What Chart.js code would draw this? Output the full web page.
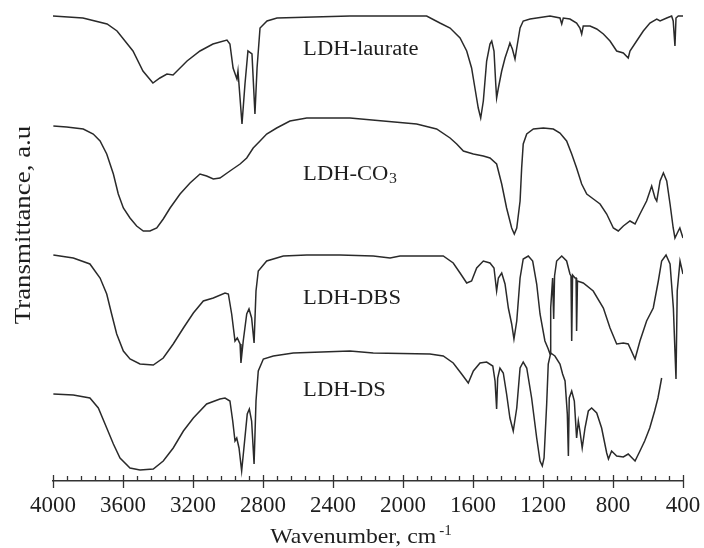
<!DOCTYPE html>
<html><head><meta charset="utf-8">
<script src="https://cdn.jsdelivr.net/npm/chart.js@4"></script>
<style>html,body{margin:0;padding:0;background:#fff}</style>
</head><body>
<canvas id="c" width="704" height="548"></canvas>
<script>
// ---- data (wavenumber in cm^-1, transmittance in arbitrary stacked units) ----
const xTickValues = [4000, 3600, 3200, 2800, 2400, 2000, 1600, 1200, 800, 400];
const seriesNames = ['LDH-laurate', 'LDH-CO3', 'LDH-DBS', 'LDH-DS'];

const laurateWn = [4000,3829,3691,3634,3543,3486,3429,3389,3349,3314,3234,3160,3086,3006,2989,2971,2949,2943,2920,2903,2886,2863,2846,2834,2817,2777,2720,2303,1865,1789,1731,1674,1636,1608,1589,1570,1556,1541,1522,1503,1493,1480,1470,1465,1455,1436,1417,1398,1389,1375,1360,1350,1331,1313,1274,1236,1160,1103,1093,1084,1046,1008,989,979,970,931,893,855,817,779,741,713,703,665,627,589,550,531,493,465,456,446,440,427,400];
const laurateT  = [465,463,457,450,430,410,398,403,407,406,420,430,437,441,437,413,402,410,357,397,430,427,367,413,453,460,463,465,465,458,453,443,430,413,393,373,363,380,420,437,440,430,397,383,393,410,423,433,438,432,422,433,453,460,462,463,465,463,457,463,462,458,453,447,455,455,452,447,440,430,428,423,430,440,450,458,462,460,463,465,460,435,463,465,465];

const co3Wn = [3998,3922,3827,3770,3731,3693,3655,3627,3598,3560,3522,3484,3446,3407,3370,3331,3274,3217,3160,3122,3084,3046,2989,2931,2893,2856,2817,2779,2722,2646,2550,2493,2303,2113,1922,1808,1731,1693,1655,1598,1541,1503,1465,1436,1408,1379,1364,1350,1331,1322,1313,1293,1255,1198,1141,1103,1065,1036,1008,979,950,912,874,836,798,770,741,703,674,646,608,579,560,550,531,512,493,474,456,446,427,418,400];
const co3T  = [355,354,352,347,340,327,307,287,273,263,255,250,250,253,262,273,287,298,307,305,302,303,310,317,323,333,340,347,353,360,363,363,363,360,357,352,343,337,330,327,325,323,317,297,273,253,247,253,280,313,337,347,352,353,352,348,340,327,313,297,287,282,277,267,253,250,255,260,257,267,280,295,283,280,300,308,300,277,253,243,250,253,243];

const dbsWn = [3998,3884,3789,3731,3693,3665,3636,3598,3560,3503,3427,3370,3313,3255,3198,3141,3084,3017,2998,2979,2960,2947,2931,2926,2913,2893,2880,2865,2851,2840,2827,2779,2684,2550,2360,2170,2074,2017,1770,1713,1674,1636,1608,1579,1541,1503,1480,1465,1455,1436,1417,1398,1379,1366,1350,1331,1313,1284,1259,1236,1217,1189,1170,1160,1156,1145,1139,1134,1122,1093,1065,1046,1040,1036,1031,1017,1011,1008,1003,970,913,855,817,779,741,713,674,646,608,570,541,522,497,474,455,446,440,433,417,400];
const dbsT  = [226,223,217,203,187,167,147,130,122,117,116,123,137,153,168,180,183,188,187,167,140,143,137,118,140,167,172,163,138,190,210,220,225,226,226,225,223,225,225,218,208,198,200,213,220,218,213,190,203,208,197,173,157,142,160,203,222,225,220,197,167,140,132,127,173,203,162,205,220,225,220,207,205,140,206,203,203,150,200,198,190,173,153,137,138,137,122,140,160,173,200,220,226,217,173,130,102,190,220,207];

const dsWn = [3998,3884,3789,3741,3693,3655,3617,3560,3503,3427,3370,3313,3255,3198,3122,3046,3017,2989,2973,2960,2950,2937,2922,2909,2890,2878,2865,2851,2840,2827,2798,2741,2627,2303,2170,1846,1770,1713,1665,1627,1598,1560,1522,1487,1474,1465,1459,1446,1427,1408,1389,1370,1350,1331,1313,1293,1265,1236,1217,1204,1194,1179,1170,1156,1132,1103,1088,1074,1061,1055,1050,1036,1021,1008,998,989,976,960,941,922,893,865,836,826,808,779,741,713,674,646,619,590,562,543,522];
const dsT  = [87,86,83,73,53,37,23,13,11,12,20,33,50,63,77,82,83,80,60,40,43,33,10,33,67,72,60,17,80,110,122,125,128,130,128,127,125,118,107,98,110,118,119,115,100,72,103,113,108,87,63,50,73,113,119,113,83,43,20,15,23,77,117,128,125,117,107,100,67,25,83,90,80,43,60,50,33,53,70,73,68,53,28,22,30,25,24,27,20,30,40,53,70,83,103];

const wnArrays = [laurateWn, co3Wn, dbsWn, dsWn];
const tArrays = [laurateT, co3T, dbsT, dsT];

// ---- drawing helpers ----
const SERIF = '"Liberation Serif", "Times New Roman", serif';
const TEXT_COLOR = '#1e1e1e';

function stretchedText(ctx, text, x, y, sx, align) {
  ctx.save();
  ctx.translate(x, y);
  ctx.scale(sx, 1);
  ctx.textAlign = align || 'left';
  ctx.fillText(text, 0, 0);
  ctx.restore();
}

const curveLabels = [
  { wn: 2571, t: 426, main: 'LDH-laurate', sub: '' },
  { wn: 2571, t: 301, main: 'LDH-CO', sub: '3' },
  { wn: 2571, t: 177, main: 'LDH-DBS', sub: '' },
  { wn: 2571, t: 85,  main: 'LDH-DS', sub: '' }
];

const decorPlugin = {
  id: 'decor',
  afterDraw(chart) {
    const { ctx, chartArea, scales } = chart;
    const xs = scales.x, ys = scales.y;
    ctx.save();
    // minor & major ticks crossing the axis
    ctx.strokeStyle = '#333';
    ctx.lineWidth = 1.3;
    const axisY = chartArea.bottom;
    for (let w = 400; w <= 4000; w += 80) {
      const px = Math.round(xs.getPixelForValue(w)) + 0.5;
      const major = w % 400 === 0;
      ctx.beginPath();
      ctx.moveTo(px, axisY - (major ? 6 : 5));
      ctx.lineTo(px, axisY + (major ? 7 : 0));
      ctx.stroke();
    }
    ctx.fillStyle = TEXT_COLOR;
    ctx.textBaseline = 'alphabetic';
    // curve labels
    const sx = 1.13;
    curveLabels.forEach(l => {
      const px = xs.getPixelForValue(l.wn);
      const py = ys.getPixelForValue(l.t);
      ctx.font = '20px ' + SERIF;
      stretchedText(ctx, l.main, px, py, sx, 'left');
      if (l.sub) {
        const w = ctx.measureText(l.main).width * sx;
        ctx.font = '14px ' + SERIF;
        stretchedText(ctx, l.sub, px + w + 0.5, py + 3, sx, 'left');
      }
    });
    // x-axis title with superscript
    const midX = (chartArea.left + chartArea.right) / 2 - 7;
    ctx.font = '22px ' + SERIF;
    const sxt = 1.08;
    const mainTxt = 'Wavenumber, cm';
    const wMain = ctx.measureText(mainTxt).width * sxt;
    ctx.font = '14px ' + SERIF;
    const supTxt = '-1';
    const wSup = ctx.measureText(supTxt).width * sxt;
    const startX = midX - (wMain + 3 + wSup) / 2;
    const baseY = chart.height - 5;
    ctx.font = '22px ' + SERIF;
    stretchedText(ctx, mainTxt, startX, baseY, sxt, 'left');
    ctx.font = '14px ' + SERIF;
    stretchedText(ctx, supTxt, startX + wMain + 3, baseY - 8, sxt, 'left');
    // y-axis title (rotated)
    ctx.save();
    ctx.translate(chartArea.left - 23.5, 225);
    ctx.rotate(-Math.PI / 2);
    ctx.scale(1.17, 1);
    ctx.font = '23px ' + SERIF;
    ctx.textAlign = 'center';
    ctx.fillText('Transmittance, a.u', 0, 0);
    ctx.restore();
    ctx.restore();
  }
};

const datasets = seriesNames.map((name, i) => ({
  label: name,
  data: wnArrays[i].map((w, k) => ({ x: w, y: tArrays[i][k] })),
  borderColor: '#2a2a2a',
  borderWidth: 1.5,
  pointRadius: 0,
  tension: 0,
  fill: false
}));

new Chart(document.getElementById('c'), {
  type: 'line',
  data: { datasets },
  options: {
    responsive: false,
    animation: false,
    devicePixelRatio: 1,
    layout: { padding: { left: 53, right: 21, top: 11, bottom: 0 } },
    plugins: { legend: { display: false }, tooltip: { enabled: false } },
    scales: {
      x: {
        type: 'linear',
        reverse: true,
        min: 400,
        max: 4000,
        afterBuildTicks(scale) {
          scale.ticks = xTickValues.map(v => ({ value: v }));
        },
        afterFit(scale) {
          scale.height = 67;
          scale.paddingLeft = 0;
          scale.paddingRight = 0;
        },
        grid: { display: false, drawTicks: false, tickLength: 0 },
        border: { display: true, color: '#333', width: 1.5 },
        ticks: {
          autoSkip: false,
          maxRotation: 0,
          padding: 11,
          color: TEXT_COLOR,
          font: { family: SERIF, size: 23 },
          callback: v => String(v)
        }
      },
      y: {
        display: false,
        min: 0,
        max: 470
      }
    }
  },
  plugins: [decorPlugin]
});
</script>
</body></html>
